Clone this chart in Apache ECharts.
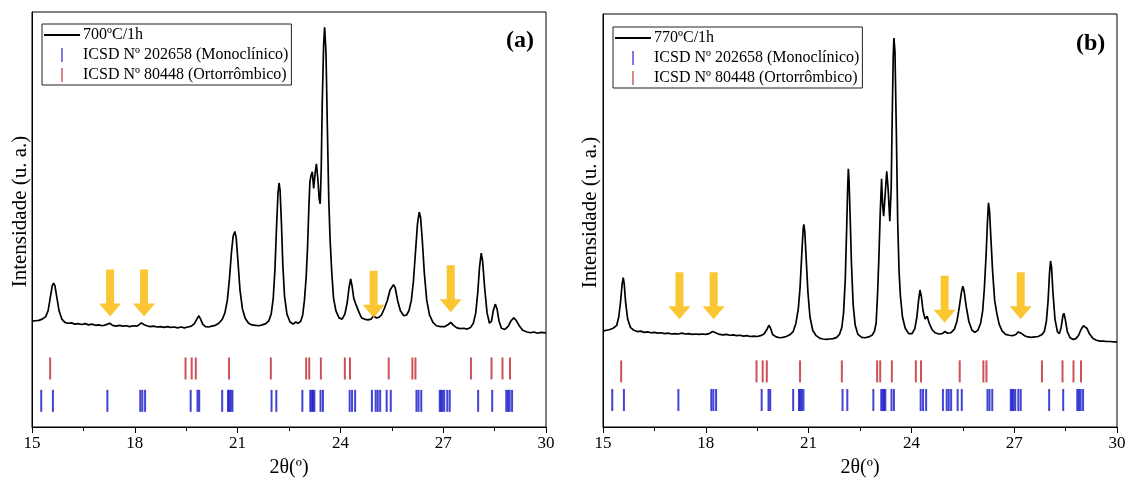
<!DOCTYPE html>
<html><head><meta charset="utf-8">
<script src="https://cdn.jsdelivr.net/npm/echarts@6/dist/echarts.min.js"></script>
<style>html,body{margin:0;padding:0;background:#fff}#c{width:1129px;height:483px}</style>
</head><body><div id="c"></div>
<script>
// XRD pattern, sample (a) 700ºC/1h : [2θ, intensity (u.a.)]
const patternA = [
[15.00,25.5],[15.10,25.6],[15.20,25.7],[15.30,26.0],[15.40,26.6],[15.47,28.0],[15.53,31.0],[15.59,34.0],[15.63,34.7],[15.67,34.0],[15.72,31.5],[15.79,28.0],[15.87,26.0],[15.96,25.2],
[16.05,25.0],[16.15,25.1],[16.25,24.8],[16.35,24.9],[16.45,24.7],[16.55,24.9],[16.65,24.6],[16.75,24.8],[16.85,24.5],[16.95,24.6],
[17.05,24.4],[17.15,24.6],[17.27,25.0],[17.35,24.5],[17.45,24.3],[17.55,24.5],[17.65,24.3],[17.75,24.4],[17.85,24.2],[17.95,24.4],
[18.05,24.3],[18.12,24.6],[18.19,25.1],[18.26,24.7],[18.35,24.4],[18.45,24.2],[18.55,24.3],[18.65,24.1],[18.75,24.2],[18.85,24.0],[18.95,24.2],
[19.05,24.0],[19.15,24.1],[19.25,23.9],[19.35,24.1],[19.45,23.9],[19.55,24.1],[19.65,24.3],[19.74,24.9],[19.81,26.0],[19.87,26.8],[19.92,26.0],[19.98,24.8],
[20.06,24.2],[20.15,24.1],[20.25,24.3],[20.35,24.5],[20.45,25.0],[20.55,25.9],[20.63,27.5],[20.70,30.5],[20.76,35.5],[20.82,42.0],[20.87,46.0],[20.92,47.1],[20.96,45.5],
[21.01,40.0],[21.07,33.0],[21.14,28.5],[21.22,26.2],[21.32,25.0],[21.42,24.6],[21.52,24.5],[21.62,24.4],[21.72,24.6],[21.82,24.9],[21.91,25.6],[21.98,27.2],
[22.04,31.0],[22.09,38.0],[22.14,49.0],[22.18,56.5],[22.21,58.8],[22.24,57.0],[22.28,49.0],[22.32,39.0],[22.37,31.5],[22.44,27.2],[22.53,25.3],[22.62,24.8],[22.70,25.3],[22.76,25.0],[22.84,25.4],[22.90,27.0],[22.95,30.5],
[23.00,36.0],[23.04,43.0],[23.08,53.0],[23.11,59.0],[23.14,60.5],[23.18,61.5],[23.22,57.5],[23.26,61.0],[23.30,63.4],[23.34,60.0],[23.38,55.0],[23.41,53.8],[23.44,62.0],[23.47,78.0],[23.51,92.0],[23.54,96.3],[23.58,90.0],[23.62,72.0],[23.66,55.0],[23.70,45.0],[23.75,37.0],[23.80,31.0],[23.87,28.0],[23.96,26.3],
[24.05,26.0],[24.13,27.2],[24.20,30.0],[24.25,33.5],[24.30,35.7],[24.34,34.0],[24.39,31.0],[24.44,29.8],[24.49,29.4],[24.55,27.5],[24.62,26.3],[24.70,26.0],[24.80,25.8],[24.90,26.0],[24.97,26.8],
[25.04,26.3],[25.12,26.4],[25.20,27.0],[25.28,28.5],[25.37,30.5],[25.45,33.0],[25.55,34.3],[25.60,33.5],[25.67,30.5],[25.75,28.0],[25.85,26.8],[25.93,27.0],
[26.00,28.0],[26.07,30.5],[26.13,35.0],[26.19,42.0],[26.25,49.0],[26.30,51.8],[26.34,50.5],[26.39,45.0],[26.45,37.0],[26.52,30.5],[26.60,27.0],[26.70,25.2],[26.80,24.4],[26.92,24.2],
[27.05,24.2],[27.15,24.7],[27.22,25.2],[27.30,24.5],[27.40,23.9],[27.50,23.7],[27.60,23.8],[27.70,23.6],[27.80,24.0],[27.88,25.0],[27.95,27.5],
[28.01,32.5],[28.06,38.5],[28.11,41.9],[28.15,40.0],[28.21,33.5],[28.28,27.5],[28.35,25.0],[28.41,25.5],[28.46,28.0],[28.52,29.6],[28.57,28.5],[28.63,25.5],[28.70,23.8],[28.80,23.5],[28.90,24.3],[28.98,25.6],
[29.06,26.3],[29.13,25.7],[29.22,24.4],[29.32,23.3],[29.45,22.9],[29.55,22.7],[29.65,22.9],[29.75,22.6],[29.85,22.8],[30.00,22.7]
];
// XRD pattern, sample (b) 770ºC/1h
const patternB = [
[15.00,23.6],[15.10,23.8],[15.20,24.0],[15.30,24.3],[15.40,25.0],[15.46,27.0],[15.51,30.5],[15.56,35.0],[15.59,36.5],[15.62,35.0],[15.66,30.5],[15.72,26.5],[15.80,24.5],[15.90,23.8],
[16.00,23.5],[16.10,23.6],[16.20,23.3],[16.30,23.4],[16.40,23.2],[16.50,23.3],[16.60,23.1],[16.70,23.2],[16.80,23.0],[16.90,23.1],
[17.00,22.9],[17.10,23.0],[17.20,22.9],[17.30,23.1],[17.40,22.9],[17.50,23.0],[17.60,22.8],[17.70,22.9],[17.80,22.8],[17.90,22.9],
[18.00,22.8],[18.10,23.0],[18.20,23.5],[18.25,23.7],[18.32,23.1],[18.40,22.8],[18.50,22.7],[18.60,22.8],[18.70,22.6],[18.80,22.7],[18.90,22.5],
[19.00,22.6],[19.10,22.4],[19.20,22.5],[19.30,22.3],[19.40,22.4],[19.50,22.3],[19.60,22.5],[19.70,22.9],[19.77,23.8],[19.84,25.0],[19.89,24.3],[19.95,22.8],
[20.05,22.2],[20.15,22.0],[20.25,22.1],[20.35,22.3],[20.45,22.7],[20.55,23.5],[20.63,25.5],[20.70,29.0],[20.75,34.0],[20.80,42.0],[20.84,48.0],[20.86,49.3],[20.89,47.5],[20.93,41.0],[20.98,33.0],
[21.04,27.0],[21.12,23.8],[21.22,22.5],[21.32,21.9],[21.42,21.7],[21.52,21.6],[21.62,21.7],[21.72,21.8],[21.82,22.1],[21.90,22.8],[21.97,24.5],
[22.02,28.0],[22.07,36.0],[22.11,48.0],[22.14,58.0],[22.16,62.7],[22.18,60.0],[22.21,52.0],[22.25,40.0],[22.30,30.0],[22.36,25.0],[22.44,22.8],[22.55,22.1],[22.65,22.0],[22.75,22.2],[22.85,22.6],[22.92,23.5],[22.97,25.5],
[23.01,32.0],[23.05,41.0],[23.09,52.0],[23.13,60.3],[23.16,54.0],[23.19,51.3],[23.23,56.0],[23.28,62.1],[23.32,58.0],[23.37,50.1],[23.41,58.0],[23.44,75.0],[23.47,90.0],[23.49,94.2],[23.52,91.0],[23.56,72.0],[23.60,50.0],[23.64,38.0],[23.68,32.0],[23.74,27.0],[23.82,24.3],[23.92,23.0],
[24.02,23.0],[24.10,24.2],[24.16,27.0],[24.21,31.0],[24.25,33.5],[24.29,32.0],[24.34,28.5],[24.40,26.5],[24.46,27.2],[24.52,25.5],[24.60,24.0],[24.69,23.2],[24.80,22.9],[24.90,23.0],[24.98,23.5],
[25.05,23.1],[25.15,23.2],[25.25,24.0],[25.33,26.0],[25.40,29.5],[25.46,33.0],[25.50,34.4],[25.54,33.2],[25.60,29.5],[25.68,25.8],[25.77,23.8],[25.85,23.3],[25.94,23.8],
[26.02,25.5],[26.08,28.5],[26.13,34.0],[26.18,42.0],[26.22,50.0],[26.25,54.5],[26.28,52.5],[26.32,46.0],[26.37,38.0],[26.43,31.0],[26.49,28.0],[26.56,25.3],[26.65,23.6],[26.75,22.8],[26.85,22.6],[26.95,22.5],
[27.05,22.8],[27.12,23.4],[27.16,23.7],[27.22,23.0],[27.30,22.5],[27.40,22.2],[27.50,22.1],[27.60,22.2],[27.70,22.3],[27.80,22.7],[27.88,23.5],[27.94,26.0],[27.99,31.0],
[28.03,37.5],[28.06,40.5],[28.09,39.0],[28.13,33.0],[28.19,26.5],[28.26,23.5],[28.32,23.0],[28.37,24.5],[28.42,27.3],[28.45,27.9],[28.49,26.5],[28.55,23.5],[28.63,22.0],[28.72,21.6],[28.80,21.8],[28.88,22.6],[28.95,24.0],
[29.02,24.9],[29.07,25.0],[29.12,24.3],[29.20,22.9],[29.30,21.8],[29.40,21.4],[29.50,21.2],[29.60,21.2],[29.70,21.1],[29.80,21.1],[29.90,21.0],[30.00,21.0]
];
// Reference peak positions (2θ)
const monoclinicPeaks = [15.27,15.61,17.20,18.16,18.22,18.30,19.63,19.83,19.88,20.55,20.72,20.76,20.80,20.85,21.99,22.13,22.89,23.12,23.16,23.20,23.24,23.42,23.49,24.27,24.34,24.43,24.92,25.03,25.09,25.16,25.35,25.47,26.22,26.28,26.36,26.90,26.94,26.98,27.03,27.12,27.19,28.02,28.43,28.84,28.89,28.94,29.01];
const orthorhombicPeaks = [15.53,19.48,19.66,19.78,20.75,21.97,23.00,23.09,23.43,24.13,24.28,25.41,26.10,26.19,27.81,28.41,28.73,28.95];
// Row levels of the reference bars (same intensity scale)
const refLevelsA = {ortho: 14.1, mono: 6.3};
const refLevelsB = {ortho: 13.9, mono: 7.0};
// Arrows: 2θ position and intensity level
const arrowsA = [[17.28,32.3],[18.27,32.3],[24.97,32.0],[27.22,33.3]];
const arrowsB = [[17.23,32.1],[18.23,32.1],[24.97,31.3],[27.19,32.1]];
const sampleA = '700ºC/1h', sampleB = '770ºC/1h';
const monoName = 'ICSD Nº 202658 (Monoclínico)';
const orthoName = 'ICSD Nº 80448 (Ortorrômbico)';

const FONT = 'Liberation Serif';
const lineIcon = 'path://M0,0L0,0M0,6L36,6L36,8L0,8ZM36,14L36,14';
const tickIcon = 'path://M0,0L0,0M17.3,0L18.7,0L18.7,14L17.3,14ZM36,14L36,14';
const arrowPath = 'path://M7,0L15,0L15,34L22,34L11,47L0,34L7,34Z';

function xAxisCfg(i){
  return {type:'value', gridIndex:i, min:15, max:30, interval:3,
    axisLine:{lineStyle:{color:'#000',width:1}},
    axisTick:{show:true,inside:false,length:6,lineStyle:{color:'#000',width:1}},
    minorTick:{show:true,splitNumber:2,length:4,lineStyle:{color:'#000',width:1}},
    axisLabel:{color:'#000',fontFamily:FONT,fontSize:17,margin:8},
    splitLine:{show:false}, minorSplitLine:{show:false},
    name:'2θ(º)', nameLocation:'middle', nameGap:31,
    nameTextStyle:{color:'#000',fontFamily:FONT,fontSize:20}};
}
function yAxisCfg(i,min,gap){
  return {type:'value', gridIndex:i, min:min, max:100,
    axisLine:{show:true,lineStyle:{color:'#000',width:1}},
    axisTick:{show:false}, axisLabel:{show:false}, splitLine:{show:false},
    name:'Intensidade (u. a.)', nameLocation:'middle', nameGap:gap, nameRotate:90,
    nameTextStyle:{color:'#000',fontFamily:FONT,fontSize:21,padding:[0,0,0,16]}};
}
function panelSeries(i, pattern, name, levels, arrows){
  return [
    {type:'line', name:name, xAxisIndex:i, yAxisIndex:i, data:pattern, showSymbol:false, symbol:'none',
     color:'#000', lineStyle:{color:'#000',width:1.7}, z:3},
    {type:'scatter', name:monoName, xAxisIndex:i, yAxisIndex:i, symbol:'rect', symbolSize:[2,22],
     itemStyle:{color:'#1414c8'}, data:monoclinicPeaks.map(p=>[p,levels.mono])},
    {type:'scatter', name:orthoName, xAxisIndex:i, yAxisIndex:i, symbol:'rect', symbolSize:[2,22],
     itemStyle:{color:'#c0262d'}, data:orthorhombicPeaks.map(p=>[p,levels.ortho])},
    {type:'scatter', name:'arrows'+i, xAxisIndex:i, yAxisIndex:i, symbol:arrowPath, symbolSize:[22,47],
     itemStyle:{color:'#F9B900'}, data:arrows, silent:true, z:4}
  ];
}
function legendCfg(sample, left, top){
  return {orient:'vertical', left:left, top:top, selectedMode:false,
    itemWidth:36, itemHeight:14, itemGap:4, padding:[3,3,2,2],
    borderColor:'#222', borderWidth:1, backgroundColor:'#fff',
    itemStyle:{borderWidth:0},
    textStyle:{color:'#000',fontFamily:FONT,fontSize:16, padding:[0,0,0,-2]},
    data:[{name:sample,icon:lineIcon},{name:monoName,icon:tickIcon},{name:orthoName,icon:tickIcon}]};
}

const chart = echarts.init(document.getElementById('c'), null, {renderer:'canvas'});
chart.setOption({
  animation:false,
  backgroundColor:'#fff',
  title:[
    {text:'(a)', left:506, top:29, padding:0, textStyle:{fontFamily:FONT,fontWeight:'bold',fontSize:24,color:'#000'}},
    {text:'(b)', left:1076, top:32, padding:0, textStyle:{fontFamily:FONT,fontWeight:'bold',fontSize:24,color:'#000'}}
  ],
  grid:[
    {left:32, right:583, top:12, bottom:55, show:true, borderColor:'#000', borderWidth:1, backgroundColor:'transparent'},
    {left:603, right:12, top:14, bottom:55, show:true, borderColor:'#000', borderWidth:1, backgroundColor:'transparent'}
  ],
  xAxis:[xAxisCfg(0), xAxisCfg(1)],
  yAxis:[yAxisCfg(0,0,1), yAxisCfg(1,0.5,2)],
  legend:[legendCfg(sampleA,42,24), legendCfg(sampleB,613,27)],
  series:[].concat(panelSeries(0,patternA,sampleA,refLevelsA,arrowsA), panelSeries(1,patternB,sampleB,refLevelsB,arrowsB))
});
</script></body></html>
